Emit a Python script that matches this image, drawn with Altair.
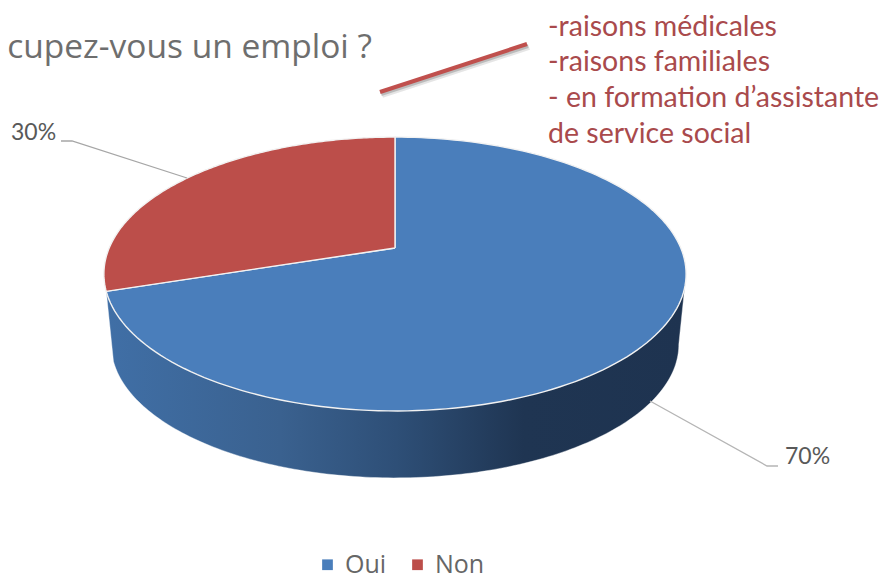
import numpy as np
import pandas as pd
import altair as alt

categories = ["Oui", "Non"]
shares = [70, 30]
slice_colors = ["#4a7ebb", "#bc4e4a"]
share_labels = ["70%", "30%"]
title_text = "cupez-vous un emploi ?"
note_lines = ["-raisons médicales", "-raisons familiales", "- en formation d’assistante", "de service social"]

# Perspective of the pie disc, in page pixels
CX, CY, AX, AY, K = 395.0, 248.0, 285.8, 132.0, -0.19
DEPTH, SHRINK = 71.0, 0.975


def disc(theta_deg, dy=0.0, scale=1.0):
    t = np.radians(theta_deg)
    u, v = np.sin(t), -np.cos(t)
    d = 1 + K * v
    return CX + scale * AX * u / d, CY + dy + scale * AY * v / d


rows = []
start = 0.0
for cat, share in zip(categories, shares):
    end = start + share * 3.6
    th = np.linspace(start, end, 161)
    xs, ys = disc(th)
    xs = [CX] + list(xs) + [CX]
    ys = [CY] + list(ys) + [CY]
    for i, (a, b) in enumerate(zip(xs, ys)):
        rows.append({"cat": cat, "i": i, "x": a, "y": b})
    start = end
slices = pd.DataFrame(rows)

# Side wall: from the slice boundary at left, along the front, to the right extreme
boundary = shares[0] * 3.6
right = 100.9
th = np.linspace(boundary, right, 161)
xb, yb = disc(th, DEPTH, SHRINK)
xt0, yt0 = disc(np.array([boundary]))
xt1, yt1 = disc(np.array([right]))
wx = [xt0[0]] + list(xb) + [xt1[0], xt0[0]]
wy = [yt0[0]] + list(yb) + [yt1[0], yt0[0]]
wall = pd.DataFrame({"i": range(len(wx)), "x": wx, "y": wy})

X = alt.X("x:Q", scale=alt.Scale(domain=[8, 881], range=[0, 873], nice=False, zero=False), axis=None)
Y = alt.Y("y:Q", scale=alt.Scale(domain=[8, 579], range=[0, 571], nice=False, zero=False), axis=None)

wall_gradient = {
    "gradient": "linear", "x1": 0, "y1": 0, "x2": 1, "y2": 0,
    "stops": [
        {"offset": 0.0, "color": "#406fa6"},
        {"offset": 0.3, "color": "#3a618f"},
        {"offset": 0.5, "color": "#2e4f77"},
        {"offset": 0.72, "color": "#1f3552"},
        {"offset": 1.0, "color": "#1e3350"},
    ],
}

wall_layer = alt.Chart(wall).mark_line(fill=wall_gradient, stroke="#ffffff", strokeWidth=0.4).encode(
    x=X, y=Y, order="i:Q")

slice_layer = alt.Chart(slices).mark_line(stroke="#f2f2f2", strokeWidth=1.4).encode(
    x=X, y=Y, order="i:Q",
    fill=alt.Fill("cat:N",
                  scale=alt.Scale(domain=categories, range=slice_colors),
                  legend=alt.Legend(title=None, orient="none", legendX=307, legendY=544,
                                    direction="horizontal", symbolType="square", symbolSize=115,
                                    symbolStrokeWidth=0, labelFont="Open Sans", labelFontSize=25,
                                    labelColor="#666666", columnPadding=18, labelOffset=5,
                                    labelLimit=100)),
)


def polyline(points, **kw):
    df = pd.DataFrame({"i": range(len(points)), "x": [p[0] for p in points], "y": [p[1] for p in points]})
    return alt.Chart(df).mark_line(**kw).encode(x=X, y=Y, order="i:Q")


def label(text, x, y, **kw):
    return alt.Chart(pd.DataFrame({"x": [x], "y": [y], "t": [text]})).mark_text(**kw).encode(x=X, y=Y, text="t:N")


leader30 = polyline([(61, 141), (72, 141), (187, 178)], color="#a6a6a6", strokeWidth=1.3)
leader70 = polyline([(650, 401), (767, 466), (778, 466)], color="#b5b5b5", strokeWidth=1.3)
shadow1 = polyline([(382, 95), (529, 47)], color="#000000", strokeWidth=6, opacity=0.10)
shadow2 = polyline([(381, 94), (528, 46)], color="#000000", strokeWidth=4, opacity=0.18)
arrow = polyline([(380, 92), (527, 44)], color="#c0504d", strokeWidth=4)

lab30 = label(share_labels[1], 11, 133, align="left", baseline="middle", font="Lato", fontSize=23, color="#595959")
lab70 = label(share_labels[0], 785, 457, align="left", baseline="middle", font="Lato", fontSize=23, color="#595959")
title = label(title_text, 372, 58, align="right", baseline="alphabetic", font="Open Sans", fontSize=33.5, color="#6e6e6e")

note_layers = [
    label(t, 548, y, align="left", baseline="alphabetic", font="Lato", fontSize=28.5, color="#a94a4c")
    for t, y in zip(note_lines, [36, 71, 107, 143])
]

chart = alt.layer(
    wall_layer, slice_layer, leader30, leader70, shadow1, shadow2, arrow, lab30, lab70, title, *note_layers
).resolve_scale(x="shared", y="shared").properties(
    width=873, height=571, padding=0, autosize=alt.AutoSizeParams(type="none")
).configure_view(stroke=None)

chart.save("out.html", embed_options={"renderer": "svg", "actions": False})
